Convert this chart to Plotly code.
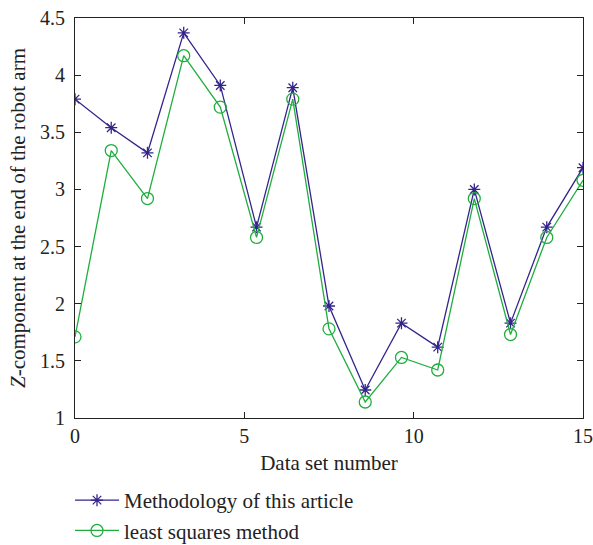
import plotly.graph_objects as go

x_vals = [0, 1.07, 2.14, 3.21, 4.29, 5.36, 6.43, 7.5, 8.57, 9.64, 10.71, 11.79, 12.86, 13.93, 15]
method_vals = [3.79, 3.54, 3.32, 4.37, 3.91, 2.67, 3.89, 1.98, 1.245, 1.83, 1.62, 3.00, 1.83, 2.67, 3.19]
lsq_vals = [1.71, 3.34, 2.92, 4.17, 3.72, 2.58, 3.79, 1.78, 1.14, 1.53, 1.42, 2.92, 1.73, 2.58, 3.08]
x_ticks = [0, 5, 10, 15]
y_ticks = [1, 1.5, 2, 2.5, 3, 3.5, 4, 4.5]
y_tick_text = ["1", "1.5", "2", "2.5", "3", "3.5", "4", "4.5"]

blue = "#33248c"
green = "#1fae3e"
font_family = "Liberation Serif, DejaVu Serif, serif"

W, H = 593, 545
ML, MR, MT, MB = 75, 10, 18, 127
plot_w = W - ML - MR
plot_h = H - MT - MB

fig = go.Figure()
fig.add_trace(go.Scatter(
    x=x_vals, y=method_vals, mode="lines+markers",
    name="Methodology of this article",
    line=dict(color=blue, width=1.3),
    marker=dict(symbol="asterisk-open", size=10, color=blue, line=dict(color=blue, width=1.3)),
))
fig.add_trace(go.Scatter(
    x=x_vals, y=lsq_vals, mode="lines+markers",
    name="least squares method",
    line=dict(color=green, width=1.3),
    marker=dict(symbol="circle-open", size=12, color=green, line=dict(color=green, width=1.3)),
))

axis_common = dict(
    showline=True, linecolor="#222222", linewidth=1.2, mirror="ticks",
    ticks="inside", ticklen=6, tickcolor="#222222", tickwidth=1.2,
    showgrid=False, zeroline=False, automargin=False, ticklabeloverflow="allow",
    tickfont=dict(family=font_family, size=20, color="#222222"),
)

fig.update_layout(
    width=W, height=H,
    margin=dict(l=ML, r=MR, t=MT, b=MB, autoexpand=False),
    paper_bgcolor="white", plot_bgcolor="white",
    font=dict(family=font_family, size=20, color="#222222"),
    xaxis=dict(range=[0, 15], tickvals=x_ticks, ticklabelstandoff=0,
               title=dict(text="Data set number", standoff=9,
                          font=dict(family=font_family, size=21)), **axis_common),
    yaxis=dict(range=[1, 4.5], tickvals=y_ticks, ticktext=y_tick_text, ticklabelstandoff=5,
               title=dict(text="<i>Z</i>-component at the end of the robot arm", standoff=8,
                          font=dict(family=font_family, size=21)), **axis_common),
    showlegend=True,
    legend=dict(x=(70 - ML) / plot_w, y=(plot_h + MT - 480) / plot_h,
                xanchor="left", yanchor="top", itemwidth=44,
                font=dict(family=font_family, size=21, color="#222222"),
                bgcolor="rgba(0,0,0,0)", tracegroupgap=0),
)

fig.write_html(
    "out.html",
    config={"displayModeBar": False},
    post_script="document.body.style.margin='0';document.body.style.overflow='hidden';",
)
